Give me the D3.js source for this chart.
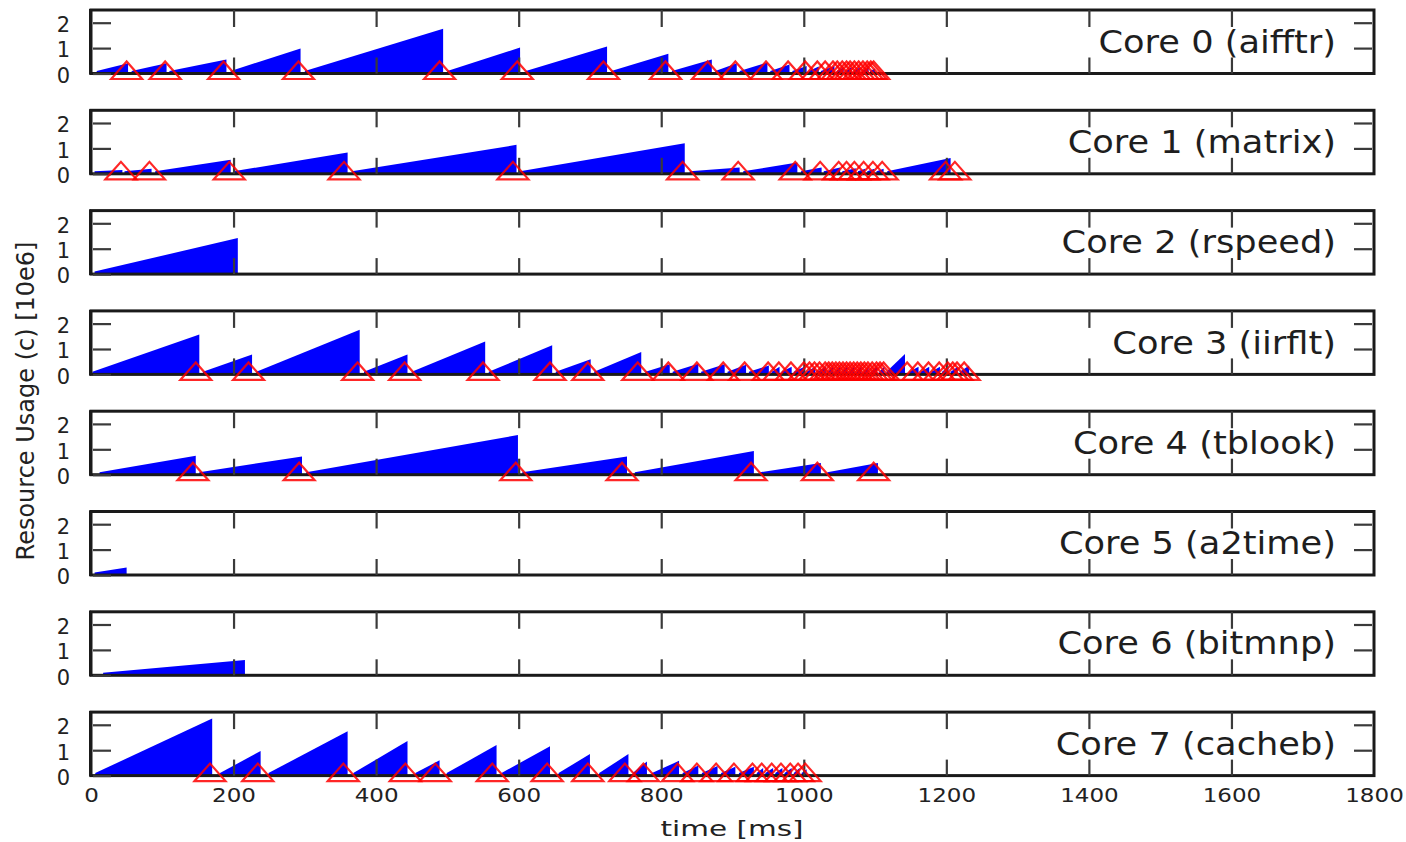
<!DOCTYPE html>
<html><head><meta charset="utf-8">
<script src="https://cdn.jsdelivr.net/npm/d3@7"></script>
<style>body{margin:0;background:#fff} svg{display:block}</style>
</head><body><svg id="chart" width="1406" height="842"></svg>
<script>
// ---------- data ----------
const coreNames = ["Core 0 (aifftr)","Core 1 (matrix)","Core 2 (rspeed)","Core 3 (iirflt)",
                   "Core 4 (tblook)","Core 5 (a2time)","Core 6 (bitmnp)","Core 7 (cacheb)"];
const xTickValues = [0,200,400,600,800,1000,1200,1400,1600,1800];
const yTickValues = [0,1,2];
const rampStart = 0.1; // usage level right after a reset

// segments: [start ms, end ms, peak usage (10e6)]
const core0Segments = [[8,52,0.4],[57,106,0.4],[110,190,0.55],[196,294,0.98],[300,494,1.76],[500,602,1.02],
  [610,724,1.06],[730,810,0.78],[815,871,0.55],[876,906,0.4],[910,949,0.43],[953,980,0.35],[984,1004,0.3],
  [1007,1021,0.28],[1024,1043,0.3],[1046,1056,0.25],[1059,1067,0.25],[1070,1079,0.25],[1082,1091,0.25],[1093,1100,0.2]];
const core0Resets = [50,104,186,291,489,598,719,806,865,904,947,978,1002,1019,1030,1041,1047,1054,1060,1065,
  1071,1077,1083,1089,1094,1098];

const core1Segments = [[5,44,0.15],[47,85,0.2],[90,196,0.55],[200,360,0.84],[366,597,1.14],[602,833,1.2],
  [840,910,0.25],[915,991,0.44],[996,1025,0.25],[1028,1051,0.25],[1054,1073,0.22],[1076,1086,0.2],
  [1089,1099,0.2],[1102,1112,0.2],[1117,1206,0.62]];
const core1Resets = [42,82,194,355,592,830,908,988,1023,1049,1060,1071,1084,1097,1110,1199,1212];

const core2Segments = [[5,206,1.42]];
const core2Resets = [];

const core3Segments = [[2,152,1.57],[157,226,0.78],[232,377,1.76],[383,444,0.78],[450,553,1.3],[558,647,1.15],
  [652,701,0.6],[706,772,0.88],[778,812,0.4],[816,852,0.42],[856,889,0.4],[893,919,0.38],[923,951,0.35],
  [955,966,0.3],[969,983,0.3],[986,1001,0.3],[1004,1016,0.3],[1019,1031,0.3],[1034,1041,0.3],[1044,1051,0.3],
  [1054,1061,0.3],[1064,1071,0.3],[1074,1081,0.3],[1084,1091,0.3],[1094,1103,0.3],[1106,1113,0.3],
  [1116,1142,0.8],[1148,1161,0.3],[1164,1176,0.3],[1179,1191,0.3],[1194,1203,0.3],[1206,1216,0.3],[1219,1232,0.35]];
const core3Resets = [147,221,374,440,550,644,697,767,810,850,887,917,950,965,982,1000,1008,1015,1022,1030,1035,
  1040,1045,1050,1055,1060,1065,1070,1075,1080,1085,1090,1096,1102,1107,1112,1145,1160,1175,1190,1202,1209,1215,1225];

const core4Segments = [[12,147,0.75],[152,296,0.72],[302,599,1.56],[605,752,0.72],[763,930,0.93],[939,1024,0.46],[1033,1104,0.46]];
const core4Resets = [143,292,596,745,926,1019,1098];

const core5Segments = [[5,50,0.3]];
const core5Resets = [];

const core6Segments = [[17,216,0.6]];
const core6Resets = [];

const core7Segments = [[6,170,2.25],[181,238,0.97],[249,360,1.75],[368,444,1.36],[455,489,0.6],[499,569,1.2],
  [576,644,1.16],[656,700,0.85],[713,754,0.85],[760,780,0.56],[787,825,0.58],[830,852,0.4],[857,879,0.38],
  [884,904,0.35],[909,930,0.35],[934,943,0.3],[946,957,0.3],[960,970,0.3],[973,983,0.3],[986,994,0.3],[997,1004,0.25]];
const core7Resets = [167,234,354,441,483,563,640,697,749,775,823,850,877,902,928,941,955,968,981,992,1002];

const coreSegments = [core0Segments,core1Segments,core2Segments,core3Segments,core4Segments,core5Segments,core6Segments,core7Segments];
const coreResets = [core0Resets,core1Resets,core2Resets,core3Resets,core4Resets,core5Resets,core6Resets,core7Resets];

// ---------- layout ----------
const FONT = "'DejaVu Sans', sans-serif";
const left = 91, right = 1374, top0 = 10, pitch = 100.3, ph = 63.5;
const svg = d3.select("#chart");
const x = d3.scaleLinear().domain([0,1800]).range([left,right]);
const y = d3.scaleLinear().domain([0,2.5]).range([ph,0]);
const intFmt = d3.format("d");

const area = d3.area().x(d => x(d[0])).y0(y(0)).y1(d => y(d[1]));
const triShape = d3.line();

coreNames.forEach((name,i) => {
  const g = svg.append("g").attr("transform", `translate(0,${top0 + i*pitch})`);

  // blue ramps
  g.selectAll("path.seg").data(coreSegments[i]).enter().append("path")
    .attr("class","seg")
    .attr("d", s => area([[s[0], rampStart],[s[1], s[2]]]))
    .attr("fill","#0000ff");

  // frame
  g.append("rect").attr("x",left).attr("y",0).attr("width",right-left).attr("height",ph)
    .attr("fill","none").attr("stroke","#1a1a1a").attr("stroke-width",3);
  g.append("line").attr("x1",left-1).attr("x2",left-1).attr("y1",-1).attr("y2",ph+1)
    .attr("stroke","#1a1a1a").attr("stroke-width",2);

  // ticks
  const inner = xTickValues.slice(1,-1);
  const axT = g.append("g").call(d3.axisTop(x).tickValues(inner).tickSize(-17).tickFormat(""));
  const axB = g.append("g").attr("transform",`translate(0,${ph})`)
    .call(d3.axisBottom(x).tickValues(inner).tickSize(-16).tickFormat(""));
  const axL = g.append("g").attr("transform",`translate(${left+2},0)`)
    .call(d3.axisLeft(y).tickValues(yTickValues).tickSize(-18).tickPadding(23).tickFormat(intFmt));
  const axR = g.append("g").attr("transform",`translate(${right-2},0)`)
    .call(d3.axisRight(y).tickValues(yTickValues.slice(1)).tickSize(-18).tickFormat(""));
  [axT,axB,axL,axR].forEach(a => {
    a.select(".domain").remove();
    a.selectAll(".tick line").attr("stroke","#3a3a3a").attr("stroke-width",2.2);
  });
  axL.selectAll(".tick text").attr("font-family",FONT).attr("font-size",21)
    .attr("fill","#222").attr("dy","0.42em");

  // reset triangles
  g.selectAll("path.tri").data(coreResets[i]).enter().append("path")
    .attr("class","tri")
    .attr("d", t => triShape([[x(t)-15.5, y(0)+5.5],[x(t), y(0)-12],[x(t)+15.5, y(0)+5.5]]) + "Z")
    .attr("fill","none").attr("stroke","#ff0000").attr("stroke-width",2.2)
    .attr("stroke-opacity",0.85).attr("stroke-linejoin","miter");

  // core label
  g.append("text").attr("transform",`translate(1336,${ph/2}) scale(1.1,1)`)
    .attr("text-anchor","end").attr("dominant-baseline","central")
    .attr("font-family",FONT).attr("font-size",32).attr("fill","#1e1e1e").text(name);

  // x tick labels on last panel
  if (i === coreNames.length-1) {
    const axX = g.append("g").attr("transform",`translate(0,${ph})`)
      .call(d3.axisBottom(x).tickValues(xTickValues).tickSize(0).tickPadding(12).tickFormat(intFmt));
    axX.select(".domain").remove();
    axX.selectAll(".tick text").attr("font-family",FONT).attr("font-size",20)
      .attr("fill","#222").attr("transform","scale(1.15,1)");
  }
});

// axis titles
svg.append("text").attr("x",732).attr("y",828).attr("text-anchor","middle")
  .attr("dominant-baseline","central").attr("font-family",FONT).attr("font-size",22)
  .attr("fill","#222").attr("textLength",143).attr("lengthAdjust","spacingAndGlyphs").text("time [ms]");
svg.append("text").attr("transform","translate(26,401) rotate(-90)").attr("text-anchor","middle")
  .attr("dominant-baseline","central").attr("font-family",FONT).attr("font-size",24)
  .attr("fill","#222").text("Resource Usage (c) [10e6]");
</script></body></html>
